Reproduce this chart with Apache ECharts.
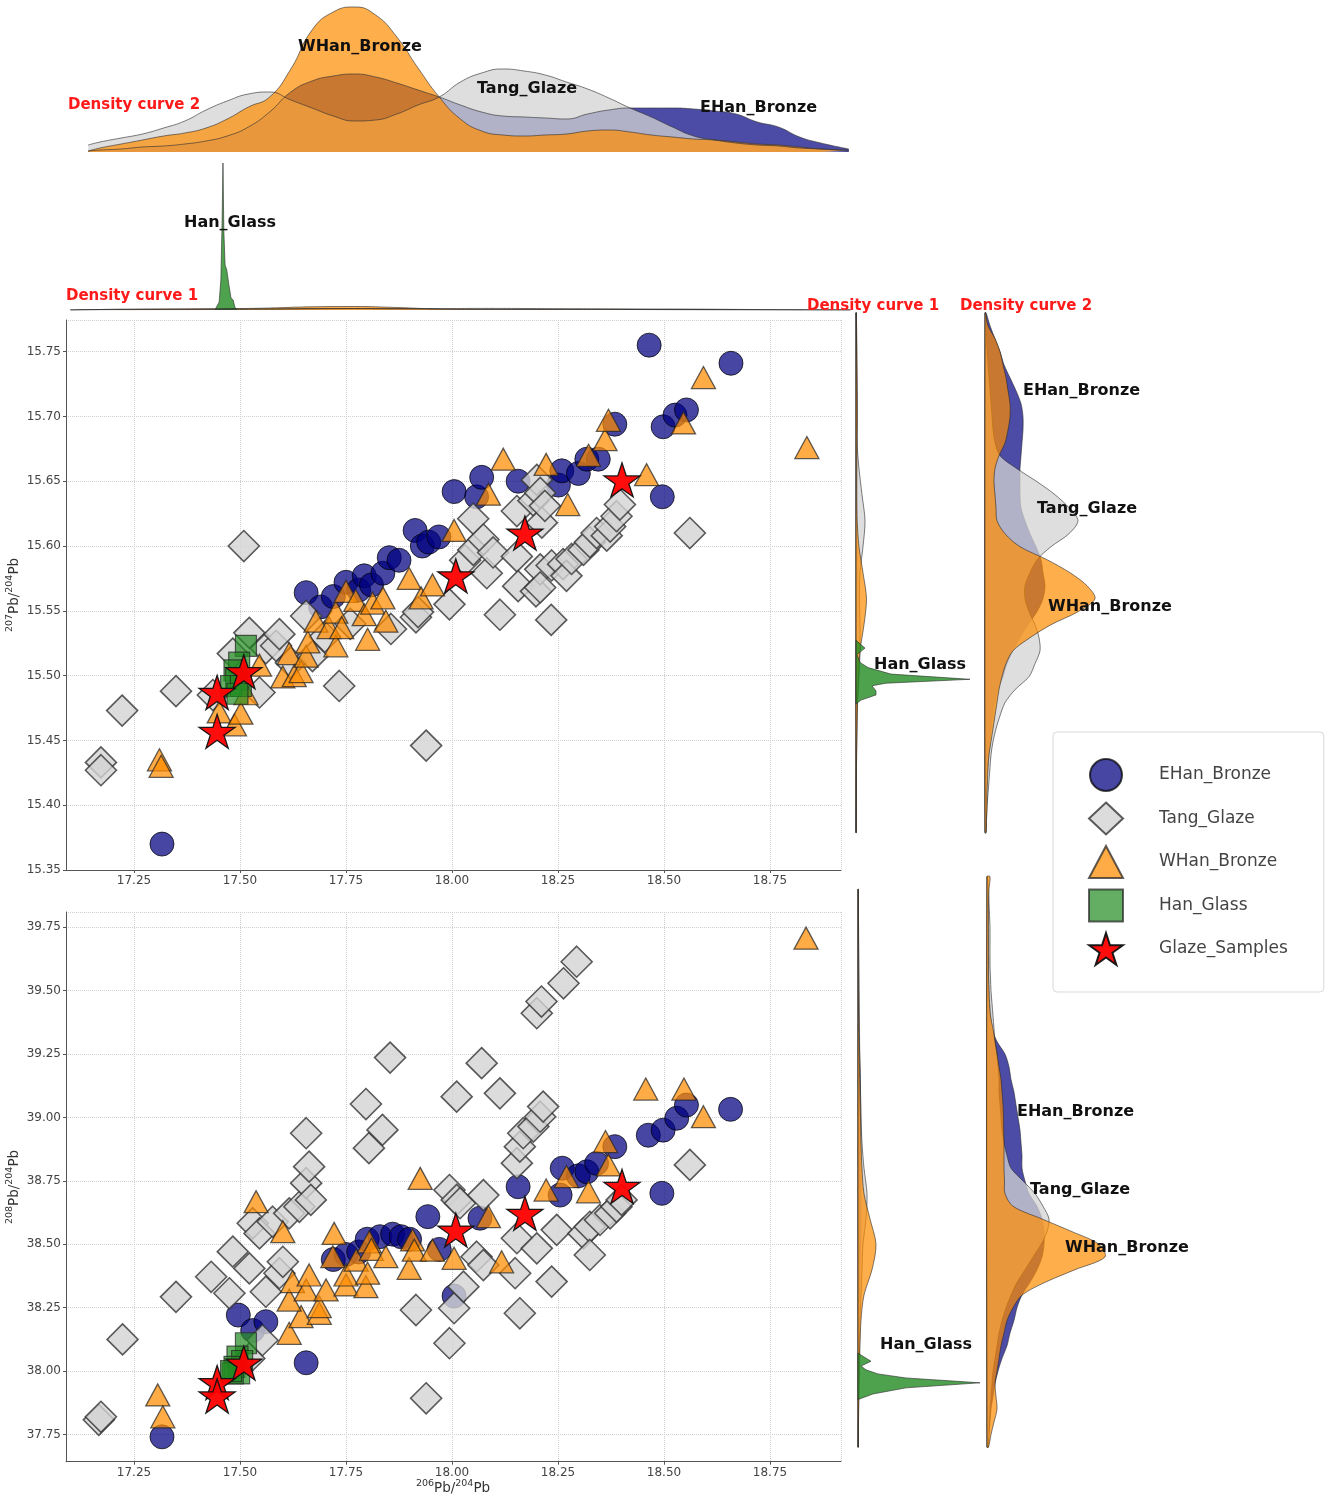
<!DOCTYPE html>
<html><head><meta charset="utf-8">
<script src="https://cdn.jsdelivr.net/npm/echarts@6.0.0/dist/echarts.min.js"></script>
<style>html,body{margin:0;padding:0;background:#fff}#c{width:1325px;height:1499px}</style>
</head><body><div id="c"></div>
<script>
// ---------- scatter data: [206Pb/204Pb, 207Pb/204Pb] ----------
const ehan207 = [[17.316,15.370],[17.656,15.564],[17.69,15.553],[17.72,15.561],[17.75,15.572],[17.78,15.566],[17.793,15.577],[17.81,15.570],[17.837,15.579],[17.852,15.591],[17.875,15.589],[17.913,15.612],[17.93,15.600],[17.945,15.603],[17.969,15.607],[18.005,15.642],[18.058,15.638],[18.07,15.653],[18.156,15.650],[18.251,15.647],[18.259,15.658],[18.298,15.656],[18.318,15.667],[18.345,15.667],[18.384,15.694],[18.465,15.755],[18.496,15.638],[18.498,15.692],[18.526,15.701],[18.553,15.705],[18.658,15.741]];
const tang207 = [[17.172,15.433],[17.172,15.427],[17.222,15.473],[17.349,15.488],[17.436,15.485],[17.483,15.517],[17.509,15.600],[17.522,15.533],[17.546,15.487],[17.561,15.521],[17.585,15.523],[17.593,15.532],[17.62,15.51],[17.656,15.546],[17.671,15.515],[17.70,15.53],[17.734,15.492],[17.76,15.54],[17.856,15.536],[17.915,15.545],[17.92,15.549],[17.939,15.446],[17.994,15.555],[18.031,15.589],[18.05,15.621],[18.05,15.597],[18.074,15.605],[18.082,15.579],[18.097,15.595],[18.113,15.547],[18.153,15.627],[18.153,15.592],[18.156,15.569],[18.192,15.635],[18.198,15.565],[18.2,15.651],[18.208,15.641],[18.208,15.582],[18.208,15.568],[18.212,15.618],[18.219,15.631],[18.234,15.543],[18.235,15.585],[18.262,15.586],[18.27,15.577],[18.282,15.59],[18.31,15.597],[18.325,15.603],[18.341,15.61],[18.365,15.608],[18.373,15.615],[18.388,15.623],[18.396,15.632],[18.561,15.61]];
const whan207 = [[17.31,15.435],[17.314,15.430],[17.451,15.472],[17.487,15.462],[17.502,15.471],[17.514,15.486],[17.546,15.508],[17.601,15.499],[17.616,15.517],[17.628,15.500],[17.644,15.503],[17.656,15.515],[17.66,15.526],[17.679,15.542],[17.71,15.537],[17.726,15.549],[17.726,15.523],[17.74,15.537],[17.75,15.565],[17.773,15.558],[17.793,15.547],[17.801,15.528],[17.813,15.556],[17.837,15.560],[17.844,15.542],[17.899,15.575],[17.927,15.560],[17.954,15.570],[18.005,15.612],[18.086,15.640],[18.121,15.667],[18.222,15.663],[18.273,15.632],[18.322,15.670],[18.361,15.682],[18.369,15.697],[18.459,15.655],[18.546,15.695],[18.593,15.730],[18.837,15.676]];
const glass207 = [[17.514,15.523],[17.498,15.510],[17.487,15.504],[17.491,15.497],[17.479,15.492],[17.502,15.492],[17.494,15.486]];
const glaze207 = [[18.401,15.651],[18.172,15.610],[18.009,15.577],[17.509,15.503],[17.446,15.487],[17.446,15.457]];

// ---------- scatter data: [206Pb/204Pb, 208Pb/204Pb] ----------
const ehan208 = [[17.316,37.741],[17.496,38.221],[17.53,38.16],[17.561,38.195],[17.656,38.033],[17.72,38.44],[17.75,38.46],[17.78,38.47],[17.80,38.52],[17.83,38.53],[17.86,38.54],[17.88,38.53],[17.90,38.52],[17.943,38.609],[17.97,38.48],[18.005,38.296],[18.066,38.603],[18.156,38.727],[18.255,38.694],[18.26,38.80],[18.298,38.77],[18.318,38.786],[18.341,38.819],[18.384,38.885],[18.463,38.930],[18.495,38.701],[18.498,38.950],[18.53,38.997],[18.553,39.049],[18.657,39.032]];
const tang208 = [[17.167,37.808],[17.172,37.820],[17.223,38.125],[17.349,38.293],[17.432,38.372],[17.475,38.307],[17.483,38.471],[17.522,38.405],[17.522,38.050],[17.53,38.583],[17.546,38.543],[17.553,38.122],[17.561,38.313],[17.577,38.589],[17.593,38.386],[17.601,38.431],[17.616,38.622],[17.64,38.648],[17.656,38.741],[17.656,38.938],[17.663,38.806],[17.667,38.675],[17.797,39.053],[17.804,38.879],[17.836,38.951],[17.854,39.236],[17.915,38.241],[17.939,37.893],[17.994,38.714],[17.994,38.110],[18.005,38.248],[18.011,39.082],[18.011,38.675],[18.019,38.662],[18.027,38.333],[18.058,38.451],[18.07,39.214],[18.074,38.694],[18.074,38.418],[18.113,39.095],[18.149,38.386],[18.153,38.820],[18.153,38.524],[18.16,38.885],[18.16,38.228],[18.168,38.938],[18.192,38.964],[18.2,39.411],[18.2,38.484],[18.208,39.003],[18.211,39.457],[18.215,39.043],[18.235,38.353],[18.247,38.557],[18.263,39.529],[18.294,39.614],[18.31,38.543],[18.325,38.569],[18.325,38.458],[18.349,38.596],[18.373,38.622],[18.388,38.648],[18.4,38.675],[18.561,38.813]];
const whan208 = [[17.306,37.906],[17.318,37.820],[17.616,38.149],[17.644,38.215],[17.687,38.228],[17.687,38.254],[17.616,38.280],[17.624,38.353],[17.656,38.320],[17.663,38.379],[17.703,38.320],[17.750,38.340],[17.750,38.379],[17.719,38.451],[17.774,38.438],[17.797,38.333],[17.801,38.386],[17.805,38.510],[17.81,38.48],[17.844,38.451],[17.899,38.405],[17.907,38.517],[17.911,38.477],[17.954,38.477],[18.005,38.445],[17.601,38.550],[17.722,38.543],[17.538,38.668],[17.925,38.760],[18.086,38.609],[18.117,38.431],[18.222,38.714],[18.27,38.767],[18.322,38.707],[18.362,38.905],[18.369,38.813],[18.457,39.112],[18.547,39.112],[18.593,39.003],[18.835,39.707]];
const glass208 = [[17.514,38.110],[17.494,38.057],[17.505,38.040],[17.487,38.017],[17.498,37.991],[17.483,37.991],[17.479,38.000]];
const glaze208 = [[18.401,38.728],[18.172,38.622],[18.009,38.556],[17.509,38.032],[17.446,37.955],[17.446,37.902]];

// ---------- density curves over 206Pb/204Pb (top panels) ----------
const topX2 = [17.172,17.20,17.25,17.30,17.35,17.40,17.45,17.50,17.55,17.60,17.65,17.70,17.75,17.80,17.85,17.90,17.95,18.00,18.05,18.10,18.15,18.20,18.25,18.30,18.35,18.40,18.45,18.50,18.55,18.60,18.65,18.70,18.75,18.80,18.85,18.90,18.966];
const ehanTop2 = [1,2,3,5,6,8,11,16,25,40,60,71,76,78,75,69,62,55,47,40,36,35,34,33,38,42,44,44,44,43,41,38,30,25,15,9,3];
const tangTop2 = [7,10,14,18,24,31,42,51,58,60,52,44,36,31,32,38,47,55,70,79,83,81,77,70,63,54,44,35,25,16,12,9,7,6,4,3,1];
const whanTop2 = [1,4,8,12,16,19,24,33,45,55,83,122,140,145,137,115,84,55,33,21,17,16,17,18,21,22,20,17,15,13,12,10,8,7,5,3,2];
const topX1 = [17.13,17.2,17.3,17.4,17.5,17.6,17.7,17.8,17.9,18.0,18.1,18.2,18.3,18.4,18.5,18.6,18.7,18.8,18.9,18.97];
const ehanTop1 = [0,0.2,0.3,0.4,0.5,0.8,1.2,1.5,1.4,1.0,0.8,0.8,0.9,1.0,1.0,0.9,0.6,0.3,0.1,0];
const tangTop1 = [0,0.5,0.8,1,1.2,1.2,1.5,1.5,1.2,1.3,1.6,1.5,1.2,0.9,0.5,0.3,0.2,0.1,0.05,0];
const whanTop1 = [0,0.5,0.8,1,1.3,2,3.2,3.5,2.5,1,0.6,0.5,0.5,0.5,0.4,0.3,0.2,0.1,0.05,0];
const glassTopX1 = [17.471,17.481,17.485,17.488,17.49,17.492,17.495,17.499,17.504,17.509,17.514,17.518,17.523];
const glassTop1 = [0,8,30,90,147,80,45,40,25,12,10,3,0];

// ---------- density curves over 207Pb/204Pb (right, upper) ----------
const y207Grid2 = [15.78,15.77,15.76,15.75,15.74,15.73,15.72,15.71,15.70,15.69,15.68,15.67,15.66,15.65,15.64,15.63,15.62,15.61,15.60,15.59,15.58,15.57,15.56,15.55,15.54,15.53,15.52,15.51,15.50,15.49,15.48,15.47,15.46,15.45,15.44,15.43,15.42,15.41,15.40,15.39,15.38];
const ehanR207_2 = [1,5,10,15,19,25,31,36,38,38,37,36,35,35,35,36,40,45,51,56,58,60,58,52,43,35,28,22,18,13,10,8,6,5,4,3,2,2,1.5,1,1];
const tangR207_2 = [0.5,1,1.5,2,3,4,5,6,7,8,10,15,32,52,70,84,93,84,66,52,45,40,40,44,50,54,55,50,44,30,20,15,11,8,6,5,4,3,2,1.5,1];
const whanR207_2 = [0.5,3,10,15,18,21,23,25,25,23,20,14,10,9,10,11,12,20,35,62,85,102,110,93,66,45,28,21,17,14,12,10,8,6,4,3,2.5,2,2,1.5,1];
const y207Grid1 = [15.78,15.76,15.74,15.72,15.70,15.68,15.66,15.64,15.62,15.60,15.58,15.56,15.54,15.52,15.50,15.48,15.46,15.44,15.42,15.40,15.38];
const ehanR207_1 = [0.3,0.8,1.0,1.2,1.2,1.0,0.8,0.7,0.8,1.0,1.0,0.8,0.6,0.4,0.3,0.2,0.2,0.1,0.1,0.1,0.05];
const tangR207_1 = [0.2,0.3,0.4,0.5,0.6,1.0,3,6,9,7,4,3.5,4,4,3,1.5,1,0.6,0.4,0.3,0.2];
const whanR207_1 = [0.2,0.5,0.8,1.0,1.2,1.0,0.8,0.8,1.2,3,7,10.5,8,4,2.5,1.5,1,0.6,0.4,0.3,0.2];
const glassY207 = [15.528,15.522,15.517,15.511,15.507,15.502,15.498,15.495,15.493,15.489,15.486,15.482,15.479];
const glassR207_1 = [0,9,1,4,12,35,114,30,16,20,20,5,0];

// ---------- density curves over 208Pb/204Pb (right, lower) ----------
const y208Grid2 = [39.95,39.90,39.85,39.80,39.75,39.70,39.65,39.60,39.55,39.50,39.45,39.40,39.35,39.30,39.25,39.20,39.15,39.10,39.05,39.00,38.95,38.90,38.85,38.80,38.75,38.70,38.65,38.60,38.55,38.50,38.45,38.40,38.35,38.30,38.25,38.20,38.15,38.10,38.05,38.00,37.95,37.90,37.85,37.80,37.75,37.70];
const ehanR208_2 = [0.5,0.5,1,1,1,1.5,1.5,2,2,2.5,3,4,5,10,18,22,24,27,29,31,33,34,35,35,38,42,50,55,57,57,55,50,43,35,30,27,23,20,15,11,8,6,4,3,2,1];
const tangR208_2 = [0.5,1.5,2,2.5,3,3,3,3,3.5,4,5,6,7,8,10,11,12,12,13,14,15,17,20,24,36,48,56,62,60,54,46,38,30,24,19,15,12,10,8,6,5,4,3,2.5,2,1];
const whanR208_2 = [3,2,1.5,1.5,1.5,1.5,1.5,1.5,1.5,2,2.5,3.5,6,8,10,12,14,15,16,16.5,16.7,17,17,17,17.5,18,26,55,85,112,118,88,58,35,26,20,17,14,12,10,8,9,10,7,4,1.5];
const y208Grid1 = [39.9,39.8,39.7,39.6,39.5,39.4,39.3,39.2,39.1,39.0,38.9,38.8,38.7,38.6,38.5,38.4,38.3,38.2,38.1,38.0,37.9,37.8,37.7];
const ehanR208_1 = [0.2,0.3,0.4,0.5,0.6,0.8,1.2,2,2.5,2.8,3,3,3,3,2.5,2,1.5,1,0.8,0.6,0.4,0.3,0.2];
const tangR208_1 = [0.3,0.5,0.7,1,1.2,1.4,1.6,2,2.5,3,4,6,9,8,5,4,3,2,1.5,1,0.6,0.4,0.2];
const whanR208_1 = [0.3,0.3,0.3,0.3,0.4,0.6,1,1.5,2,2.5,3,4,6,12,18,14,6,3,2,1.5,1,0.5,0.2];
const glassY208 = [38.071,38.039,38.020,38.005,37.989,37.973,37.954,37.934,37.910,37.888];
const glassR208_1 = [0,13,3,8,20,48,122,48,15,0];

const names = ['EHan_Bronze','Tang_Glaze','WHan_Bronze','Han_Glass','Glaze_Samples'];

// ---------- styling ----------
const STAR = 'path://M0,-10 L2.245,-3.09 L9.511,-3.09 L3.633,1.18 L5.878,8.09 L0,3.82 L-5.878,8.09 L-3.633,1.18 L-9.511,-3.09 L-2.245,-3.09 Z';
const COL = {ehan:'#000080', tang:'#d3d3d3', whan:'#ff8c00', glass:'#228B22'};
const styles = {
  EHan_Bronze: {symbol:'circle', size:24, itemStyle:{color:COL.ehan, opacity:0.72, borderColor:'#000', borderWidth:1}},
  Tang_Glaze: {symbol:'diamond', size:31, itemStyle:{color:COL.tang, opacity:0.8, borderColor:'#333', borderWidth:1.6}},
  WHan_Bronze: {symbol:'triangle', size:[24,22], itemStyle:{color:COL.whan, opacity:0.72, borderColor:'#222', borderWidth:1.3}},
  Han_Glass: {symbol:'rect', size:21, itemStyle:{color:COL.glass, opacity:0.7, borderColor:'#222', borderWidth:1.2}},
  Glaze_Samples: {symbol:STAR, size:[36,34], itemStyle:{color:'#ff0000', opacity:0.95, borderColor:'#111', borderWidth:1.3}}
};

function scatter(name, data, gi) {
  const s = styles[name];
  return {type:'scatter', name, xAxisIndex:gi, yAxisIndex:gi, data, symbol:s.symbol, symbolSize:s.size,
    itemStyle:s.itemStyle, silent:true, emphasis:{disabled:true}};
}
function hDens(name, gi, xs, vals, color, opacity, smooth) {
  return {type:'line', name, xAxisIndex:gi, yAxisIndex:gi, data: xs.map((x,i)=>[x, vals[i]]),
    smooth, symbol:'none', silent:true,
    lineStyle:{color:'#333', width:0.8, opacity:0.8}, areaStyle:{color, opacity}};
}
function vDens(name, gi, ys, vals, color, stroke, smooth) {
  const pts = ys.map((y,i)=>[vals[i], y]);
  return {type:'custom', name, xAxisIndex:gi, yAxisIndex:gi, silent:true, data: pts,
    encode:{x:0, y:1},
    renderItem: function(params, api) {
      if (params.dataIndex !== 0) return null;
      const line = pts.map(p => api.coord(p));
      const b0 = api.coord([0, ys[0]]);
      const b1 = api.coord([0, ys[ys.length-1]]);
      return {type:'polygon', shape:{points:[b0].concat(line, [b1]), smooth:smooth},
        style:{fill:color, stroke:stroke, lineWidth:0.8}};
    }};
}

const axisLbl = {color:'#444', fontSize:12, fontFamily:'DejaVu Sans', margin:5, formatter: v => v.toFixed(2)};
const splitL = {show:true, lineStyle:{color:'#cfcfcf', type:'dotted', width:1}};
const axLine = {show:true, onZero:false, lineStyle:{color:'#555', width:1}};
const axTick = {show:true, length:3, lineStyle:{color:'#555'}};
const richName = {sup:{fontSize:9.5, verticalAlign:'top', lineHeight:16, fontFamily:'DejaVu Sans', fill:'#333', color:'#333'},
                  b:{fontSize:13.5, verticalAlign:'bottom', lineHeight:16, fontFamily:'DejaVu Sans', fill:'#333', color:'#333'}};

const hidden = (gi, min, max) => ({type:'value', gridIndex:gi, min, max, show:false, splitLine:{show:false}});
const G = (left, top, width, height) => ({left, top, width, height, containLabel:false, outerBoundsMode:'none'});

const option = {
  animation:false,
  backgroundColor:'#fff',
  grid:[
    G(66, 320, 775, 550),          // 0 scatter 207
    G(66, 912, 775, 549.7),        // 1 scatter 208
    G(88, 5, 761, 147),            // 2 top density curve 2
    G(70, 160, 780, 150),          // 3 top density curve 1
    G(856, 306.2, 130, 539.5),     // 4 right 207 curve 1
    G(985, 306.2, 130, 539.5),     // 5 right 207 curve 2
    G(858, 871.5, 130, 588.4),     // 6 right 208 curve 1
    G(987, 871.5, 130, 588.4)      // 7 right 208 curve 2
  ],
  xAxis:[
    {type:'value', gridIndex:0, min:17.0896, max:18.9175, minInterval:0.25, maxInterval:0.25,
      axisLine:axLine, axisTick:axTick, splitLine:splitL,
      axisLabel:Object.assign({}, axisLbl, {showMinLabel:false, showMaxLabel:false})},
    {type:'value', gridIndex:1, min:17.0896, max:18.9175, minInterval:0.25, maxInterval:0.25,
      axisLine:axLine, axisTick:axTick, splitLine:splitL,
      axisLabel:Object.assign({}, axisLbl, {showMinLabel:false, showMaxLabel:false})},
    hidden(2, 17.1716, 18.9665),
    hidden(3, 17.1292, 18.9689),
    hidden(4, 0, 130), hidden(5, 0, 130), hidden(6, 0, 130), hidden(7, 0, 130)
  ],
  yAxis:[
    {type:'value', gridIndex:0, min:15.35, max:15.7744, interval:0.05,
      axisLine:axLine, axisTick:axTick, splitLine:splitL,
      axisLabel:Object.assign({}, axisLbl, {showMaxLabel:false})},
    {type:'value', gridIndex:1, min:37.643, max:39.810, minInterval:0.25, maxInterval:0.25,
      axisLine:axLine, axisTick:axTick, splitLine:splitL,
      axisLabel:Object.assign({}, axisLbl, {showMinLabel:false, showMaxLabel:false})},
    hidden(2, 0, 147),
    hidden(3, 0, 150),
    hidden(4, 15.37, 15.785), hidden(5, 15.37, 15.785),
    hidden(6, 37.65, 39.97), hidden(7, 37.65, 39.97)
  ],
  legend:{
    orient:'vertical', left:1053, top:732,
    data:[{name:'EHan_Bronze', icon:'circle'},{name:'Tang_Glaze', icon:'diamond'},{name:'WHan_Bronze', icon:'triangle'},{name:'Han_Glass', icon:'rect'},{name:'Glaze_Samples', icon:STAR}],
    itemWidth:34, itemHeight:32, itemGap:9.5,
    padding:[26,36,26,35],
    backgroundColor:'#fff', borderColor:'#d9d9d9', borderWidth:1, borderRadius:4,
    textStyle:{fontSize:17, color:'#444', fontFamily:'DejaVu Sans', padding:[0,0,0,31]},
    selectedMode:false
  },
  graphic:[],
  series:[]
};

// scatter series
[[names[0], ehan207, ehan208],[names[1], tang207, tang208],[names[2], whan207, whan208],[names[3], glass207, glass208],[names[4], glaze207, glaze208]]
  .forEach(([n, a, b]) => { option.series.push(scatter(n, a, 0)); option.series.push(scatter(n, b, 1)); });

// top density panels
const fEhan = 'rgba(0,0,128,0.7)', fTang = 'rgba(211,211,211,0.75)', fWhan = 'rgba(255,140,0,0.7)', fGlass = 'rgba(34,139,34,0.8)';
option.series.push(hDens('EHan density 2 (206)', 2, topX2, ehanTop2, COL.ehan, 0.7, 0.5));
option.series.push(hDens('Tang density 2 (206)', 2, topX2, tangTop2, COL.tang, 0.75, 0.5));
option.series.push(hDens('WHan density 2 (206)', 2, topX2, whanTop2, COL.whan, 0.7, 0.5));
option.series.push(hDens('EHan density 1 (206)', 3, topX1, ehanTop1, COL.ehan, 0.7, 0.5));
option.series.push(hDens('Tang density 1 (206)', 3, topX1, tangTop1, COL.tang, 0.75, 0.5));
option.series.push(hDens('WHan density 1 (206)', 3, topX1, whanTop1, COL.whan, 0.7, 0.5));
option.series.push(hDens('Glass density 1 (206)', 3, glassTopX1, glassTop1, COL.glass, 0.8, false));

// right density panels
const edge = 'rgba(40,40,40,0.75)';
option.series.push(vDens('EHan density 1 (207)', 4, y207Grid1, ehanR207_1, fEhan, edge, 0.3));
option.series.push(vDens('Tang density 1 (207)', 4, y207Grid1, tangR207_1, fTang, edge, 0.3));
option.series.push(vDens('WHan density 1 (207)', 4, y207Grid1, whanR207_1, fWhan, edge, 0.3));
option.series.push(vDens('Glass density 1 (207)', 4, glassY207, glassR207_1, fGlass, edge, 0));
option.series.push(vDens('EHan density 2 (207)', 5, y207Grid2, ehanR207_2, fEhan, edge, 0.3));
option.series.push(vDens('Tang density 2 (207)', 5, y207Grid2, tangR207_2, fTang, edge, 0.3));
option.series.push(vDens('WHan density 2 (207)', 5, y207Grid2, whanR207_2, fWhan, edge, 0.3));
option.series.push(vDens('EHan density 1 (208)', 6, y208Grid1, ehanR208_1, fEhan, edge, 0.3));
option.series.push(vDens('Tang density 1 (208)', 6, y208Grid1, tangR208_1, fTang, edge, 0.3));
option.series.push(vDens('WHan density 1 (208)', 6, y208Grid1, whanR208_1, fWhan, edge, 0.3));
option.series.push(vDens('Glass density 1 (208)', 6, glassY208, glassR208_1, fGlass, edge, 0));
option.series.push(vDens('EHan density 2 (208)', 7, y208Grid2, ehanR208_2, fEhan, edge, 0.3));
option.series.push(vDens('Tang density 2 (208)', 7, y208Grid2, tangR208_2, fTang, edge, 0.3));
option.series.push(vDens('WHan density 2 (208)', 7, y208Grid2, whanR208_2, fWhan, edge, 0.3));

// annotation texts
function txt(text, x, y, color, size) {
  return {type:'text', x, y, z:100, silent:true,
    style:{text, fill:color, font:'bold ' + size + 'px "DejaVu Sans"', textVerticalAlign:'middle', verticalAlign:'middle'}};
}
function axName(text, x, y, rot) {
  return {type:'text', x, y, rotation:rot, z:100, silent:true,
    style:{text, rich:richName, fill:'#333', textAlign:'center', align:'center', textVerticalAlign:'middle', verticalAlign:'middle'}};
}
const RED = '#ff1a1a';
option.graphic = [
  txt('Density curve 2', 68, 105, RED, 15),
  txt('WHan_Bronze', 298, 47, '#111', 16),
  txt('Tang_Glaze', 477, 89, '#111', 16),
  txt('EHan_Bronze', 700, 108, '#111', 16),
  txt('Han_Glass', 184, 223, '#111', 16),
  txt('Density curve 1', 66, 296, RED, 15),
  txt('Density curve 1', 807, 306, RED, 15),
  txt('Density curve 2', 960, 306, RED, 15),
  txt('EHan_Bronze', 1023, 391, '#111', 16),
  txt('Tang_Glaze', 1037, 509, '#111', 16),
  txt('WHan_Bronze', 1048, 607, '#111', 16),
  txt('Han_Glass', 874, 665, '#111', 16),
  txt('EHan_Bronze', 1017, 1112, '#111', 16),
  txt('Tang_Glaze', 1030, 1190, '#111', 16),
  txt('WHan_Bronze', 1065, 1248, '#111', 16),
  txt('Han_Glass', 880, 1345, '#111', 16),
  axName('{sup|207}{b|Pb/}{sup|204}{b|Pb}', 13, 595, Math.PI/2),
  axName('{sup|208}{b|Pb/}{sup|204}{b|Pb}', 13, 1187, Math.PI/2),
  axName('{sup|206}{b|Pb/}{sup|204}{b|Pb}', 453, 1487, 0)
];

const chart = echarts.init(document.getElementById('c'), null, {renderer:'canvas'});
chart.setOption(option);
</script>
</body></html>
